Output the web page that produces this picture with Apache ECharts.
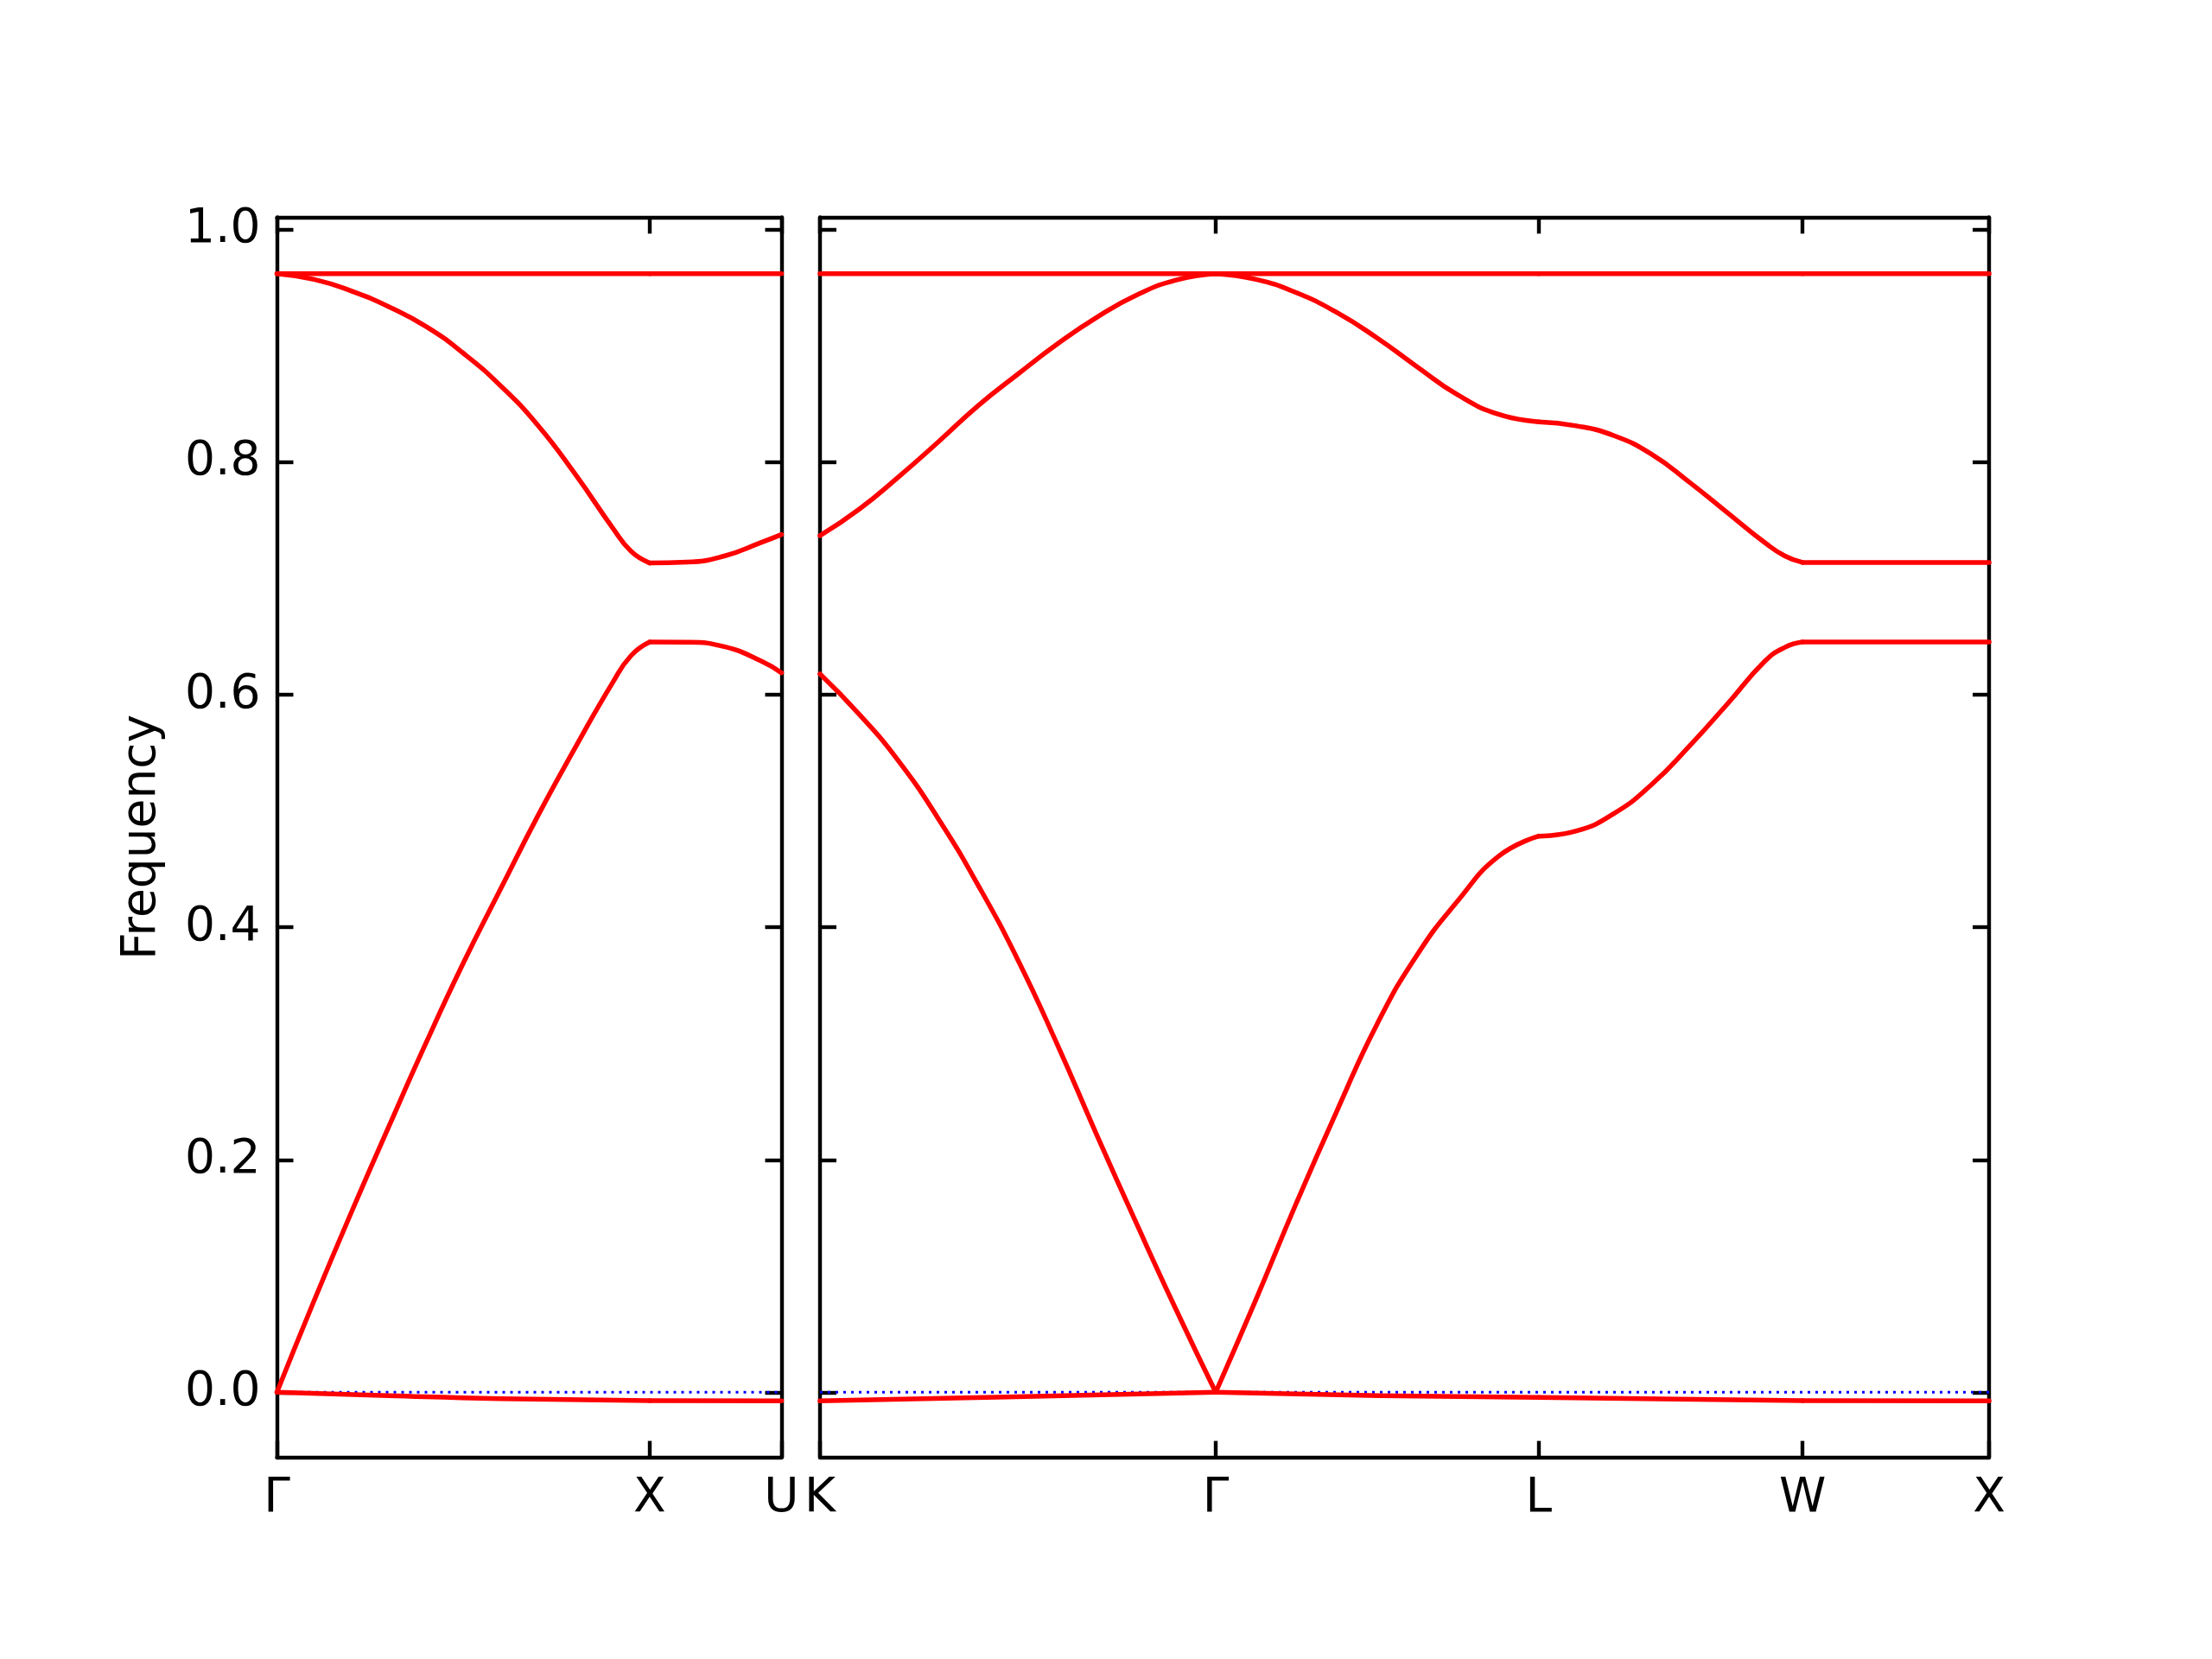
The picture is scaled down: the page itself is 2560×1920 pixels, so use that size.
<!DOCTYPE html>
<html><head><meta charset="utf-8">
<script src="https://cdn.jsdelivr.net/npm/echarts@6/dist/echarts.min.js"></script>
<style>html,body{margin:0;padding:0;background:#fff}#c{width:2560px;height:1920px}</style>
</head><body><div id="c"></div><script>
const FONT = 'DejaVu Sans';
// High-symmetry points (path length along k-path)
const leftTickPos = [0, 1.0, 1.3536];
const leftTickNames = ['Γ', 'X', 'U'];
const rightTickPos = [0, 1.0607, 1.9267, 2.6338, 3.1338];
const rightTickNames = ['K', 'Γ', 'L', 'W', 'X'];
const yTickValues = [0, 0.2, 0.4, 0.6, 0.8, 1.0];
const yRange = [-0.056, 1.011];

// Left panel (Γ - X - U)
const leftBand1 = [[0, 0.9625], [1.0, 0.9625], [1.3536, 0.9625]];
const leftBand2 = [[0, 0.9625], [0.1, 0.9575], [0.2, 0.9475], [0.3, 0.934], [0.4, 0.917], [0.5, 0.894],
  [0.6, 0.866], [0.7, 0.832], [0.8, 0.790], [0.9, 0.744], [0.95, 0.7235], [1.0, 0.7135],
  [1.1, 0.7142], [1.2, 0.7195], [1.3, 0.7313], [1.3536, 0.738]];
const leftBand3 = [[0, 0], [0.1, 0.079], [0.2, 0.155], [0.3, 0.2285], [0.4, 0.3006], [0.5, 0.3693],
  [0.6, 0.433], [0.7, 0.496], [0.8, 0.5545], [0.9, 0.6103], [0.95, 0.6338], [1.0, 0.6455],
  [1.1, 0.6453], [1.2, 0.6415], [1.3, 0.629], [1.3536, 0.619]];
const leftBand4 = [[0, 0], [0.3, -0.003], [0.6, -0.0055], [1.0, -0.0072], [1.3536, -0.0075]];

// Right panel (K - Γ - L - W - X)
const rightBand1 = [[0, 0.9625], [1.0607, 0.9625], [1.9267, 0.9625], [2.6338, 0.9625], [3.1338, 0.9625]];
const rightBand2 = [
  [0, 0.737], [0.1061, 0.760], [0.2121, 0.788], [0.3182, 0.818], [0.4243, 0.849], [0.5304, 0.876],
  [0.6364, 0.902], [0.7425, 0.925], [0.8486, 0.944], [0.9546, 0.957], [1.0607, 0.9625],
  [1.1690, 0.9575], [1.2772, 0.946], [1.3855, 0.929], [1.4937, 0.907], [1.6020, 0.882], [1.7102, 0.858],
  [1.8185, 0.8415], [1.9267, 0.835],
  [2.0277, 0.8315], [2.1287, 0.823], [2.2297, 0.807], [2.3307, 0.783], [2.4317, 0.757], [2.5327, 0.731],
  [2.5867, 0.7195], [2.6338, 0.714],
  [3.1338, 0.714]];
const rightBand3 = [
  [0, 0.618], [0.1061, 0.583], [0.2121, 0.5425], [0.3182, 0.493], [0.4243, 0.436], [0.5304, 0.372],
  [0.6364, 0.299], [0.7425, 0.221], [0.8486, 0.145], [0.9546, 0.071], [1.0607, 0],
  [1.1690, 0.080], [1.2772, 0.163], [1.3855, 0.242], [1.4937, 0.317], [1.6020, 0.377], [1.7102, 0.423],
  [1.8185, 0.461], [1.9267, 0.4785],
  [2.0277, 0.483], [2.1287, 0.498], [2.2297, 0.523], [2.3307, 0.556], [2.4317, 0.592], [2.5327, 0.629],
  [2.5867, 0.641], [2.6338, 0.6455],
  [3.1338, 0.6455]];
const rightBand4 = [[0, -0.0075], [0.5, -0.004], [1.0607, 0], [1.5, -0.003], [1.9267, -0.0045], [2.3, -0.006],
  [2.6338, -0.0072], [3.1338, -0.0075]];

const leftBands = [leftBand1, leftBand2, leftBand3, leftBand4];
const rightBands = [rightBand1, rightBand2, rightBand3, rightBand4];

function segments(points, breaks) {
  const out = [];
  for (let i = 0; i < breaks.length - 1; i++) {
    const a = breaks[i], b = breaks[i + 1];
    const seg = points.filter(p => p[0] >= a - 1e-6 && p[0] <= b + 1e-6);
    if (seg.length >= 2) out.push(seg);
  }
  return out;
}

const LW = 4.4;
const black = '#000000';
function nameOf(pos, names) {
  return v => { for (let i = 0; i < pos.length; i++) if (Math.abs(pos[i] - v) < 1e-4) return names[i]; return ''; };
}
function xAxisDef(grid, position, pos, names, withLabels) {
  return {
    type: 'value', gridIndex: grid, position: position, min: 0, max: pos[pos.length - 1],
    axisLine: { show: true, onZero: false, lineStyle: { color: black, width: LW } },
    axisTick: { show: true, inside: true, length: 19, customValues: pos, lineStyle: { color: black, width: LW } },
    axisLabel: { show: withLabels, customValues: pos, formatter: nameOf(pos, names), margin: 21,
      color: black, fontFamily: FONT, fontSize: 55 },
    splitLine: { show: false }
  };
}
function yAxisDef(grid, position, withLabels) {
  const d = {
    type: 'value', gridIndex: grid, position: position, min: yRange[0], max: yRange[1],
    axisLine: { show: true, onZero: false, lineStyle: { color: black, width: LW } },
    axisTick: { show: true, inside: true, length: 19, customValues: yTickValues, lineStyle: { color: black, width: LW } },
    axisLabel: { show: withLabels, customValues: yTickValues, formatter: v => v.toFixed(1), margin: 19,
      color: black, fontFamily: FONT, fontSize: 55 },
    splitLine: { show: false }
  };
  if (withLabels) {
    d.name = 'Frequency'; d.nameLocation = 'middle'; d.nameRotate = 90; d.nameGap = 128;
    d.nameTextStyle = { color: black, fontFamily: FONT, fontSize: 55 };
  }
  return d;
}

const series = [];
function addPanel(bands, breaks, xi, yi) {
  series.push({ type: 'line', xAxisIndex: xi, yAxisIndex: yi, data: [[breaks[0], 0], [breaks[breaks.length - 1], 0]],
    showSymbol: false, silent: true, z: 1, lineStyle: { color: '#0000ff', width: 3, type: [3, 6] } });
  bands.forEach(b => {
    segments(b, breaks).forEach(seg => {
      series.push({ type: 'line', xAxisIndex: xi, yAxisIndex: yi, data: seg, showSymbol: false, silent: true,
        smooth: 0.5, z: 3, lineStyle: { color: '#ff0000', width: 5.5, join: 'round', cap: 'round' } });
    });
  });
}
addPanel(leftBands, leftTickPos, 0, 0);
addPanel(rightBands, rightTickPos, 2, 2);

const chart = echarts.init(document.getElementById('c'), null, { renderer: 'canvas' });
chart.setOption({
  animation: false,
  backgroundColor: '#ffffff',
  grid: [
    { left: 320.5, top: 251.4, width: 584, height: 1435.2 },
    { left: 949, top: 251.4, width: 1353, height: 1435.2 }
  ],
  xAxis: [
    xAxisDef(0, 'bottom', leftTickPos, leftTickNames, true),
    xAxisDef(0, 'top', leftTickPos, leftTickNames, false),
    xAxisDef(1, 'bottom', rightTickPos, rightTickNames, true),
    xAxisDef(1, 'top', rightTickPos, rightTickNames, false)
  ],
  yAxis: [
    yAxisDef(0, 'left', true),
    yAxisDef(0, 'right', false),
    yAxisDef(1, 'left', false),
    yAxisDef(1, 'right', false)
  ],
  series: series
});
</script></body></html>
